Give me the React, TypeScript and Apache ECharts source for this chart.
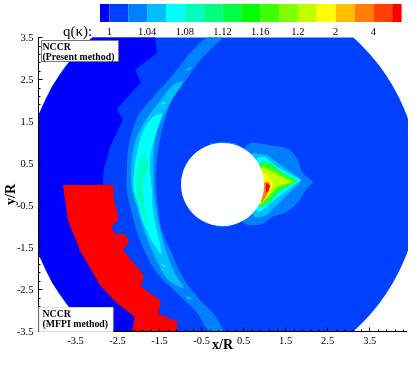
import React, { useEffect, useRef } from "react";
import * as echarts from "echarts";

const serif = "Liberation Serif";

// Contour level colours, low to high
const levelColors = [
  "#0000ff", "#0040ff", "#0080ff", "#00bfff", "#00ffff", "#00ffbf", "#00ff80", "#00ff40", "#00ff00",
  "#40ff00", "#80ff00", "#bfff00", "#ffff00", "#ffbf00", "#ff8000", "#ff4000", "#ff0000",
];
const colorbarEdges = [0, 0.5, 1.5, 2.5, 3.5, 4.5, 5.5, 6.5, 7.5, 8.5, 9.5, 10.5, 11.5, 12.5, 13.5, 14.5, 15.5, 16];
const colorbarTickPositions = [0.5, 2.5, 4.5, 6.5, 8.5, 10.5, 12.5, 14.5];
const colorbarTickLabels = ["1", "1.04", "1.08", "1.12", "1.16", "1.2", "2", "4"];

const majorTicks = [-3.5, -2.5, -1.5, -0.5, 0.5, 1.5, 2.5, 3.5];
const xMinorTicks = [-4.3, -4.1, -3.9, -3.7, -3.3, -3.1, -2.9, -2.7, -2.3, -2.1, -1.9, -1.7, -1.3, -1.1, -0.9, -0.7, -0.3, -0.1, 0.1, 0.3, 0.7, 0.9, 1.1, 1.3, 1.7, 1.9, 2.1, 2.3, 2.7, 2.9, 3.1, 3.3, 3.7, 3.9, 4.1, 4.3];
const yMinorTicks = [-3.3, -3.1, -2.9, -2.7, -2.3, -2.1, -1.9, -1.7, -1.3, -1.1, -0.9, -0.7, -0.3, -0.1, 0.1, 0.3, 0.7, 0.9, 1.1, 1.3, 1.7, 1.9, 2.1, 2.3, 2.7, 2.9, 3.1, 3.3];

const domainRadius = 4.68;
const cylinderRadius = 0.99;

// Contour outlines, in x/R, y/R
const darkWedge = [[-1.61, 3.6], [-1.56, 3.13], [-2.08, 2.73], [-1.95, 2.42], [-2.52, 1.8], [-2.37, 1.54], [-2.68, 0.89], [-2.83, 0.35], [-2.85, -0.01], [-3.0, -1.0], [-2.8, -2.0], [-2.3, -2.8], [-1.8, -3.2], [-1.8, -4.0], [-2.34, -4.053], [-3.008, -3.585], [-3.585, -3.008], [-4.053, -2.34], [-4.398, -1.6], [-4.609, -0.813], [-4.68, 0], [-4.609, 0.813], [-4.398, 1.6], [-4.053, 2.34], [-3.585, 3.008], [-3.01, 3.59]];
const redRegion = [[-3.8, -0.01], [-2.6, -0.01], [-2.59, -0.32], [-2.47, -0.83], [-2.64, -1.0], [-2.56, -1.18], [-2.33, -1.18], [-2.22, -1.36], [-2.37, -1.56], [-1.87, -2.17], [-1.95, -2.43], [-1.47, -2.77], [-1.53, -3.07], [-1.07, -3.27], [-1.1, -3.6], [-2.17, -3.6], [-2.09, -3.15], [-2.52, -2.82], [-2.92, -2.39], [-3.4, -1.56], [-3.68, -0.85]];

const shockBand1 = [[-0.3, 3.54], [-0.71, 3.2], [-1.09, 2.73], [-1.33, 2.44], [-1.66, 2.08], [-1.97, 1.7], [-2.14, 1.3], [-2.25, 0.82], [-2.28, 0.27], [-2.28, -0.13], [-2.16, -0.68], [-1.97, -1.32], [-1.56, -2.11], [-1.09, -2.58], [-0.61, -3.06], [-0.3, -3.51], [0.01, -3.51], [-0.23, -3.06], [-0.54, -2.75], [-0.95, -2.2], [-1.21, -1.63], [-1.45, -1.08], [-1.56, -0.3], [-1.59, 0.11], [-1.56, 0.58], [-1.49, 1.06], [-1.37, 1.54], [-1.18, 2.08], [-0.9, 2.44], [-0.66, 2.8], [-0.3, 3.2], [0.01, 3.54]];
const shockBand2 = [[-0.95, 2.46], [-1.18, 2.37], [-1.42, 2.08], [-1.78, 1.61], [-2.04, 1.13], [-2.16, 0.58], [-2.16, -0.06], [-2.04, -0.54], [-1.85, -1.15], [-1.54, -1.87], [-1.3, -2.27], [-0.92, -2.46], [-1.09, -2.2], [-1.33, -1.63], [-1.49, -1.04], [-1.61, -0.37], [-1.64, 0.11], [-1.61, 1.06], [-1.45, 1.54], [-1.18, 2.06], [-0.97, 2.37]];
const shockSpotUpper = [[-0.9, 2.7], [-0.82, 2.78], [-0.72, 2.81], [-0.76, 2.74]];
const shockSpotLower = [[-0.9, -2.68], [-0.8, -2.66], [-0.72, -2.73], [-0.82, -2.74]];
const shockCyan = [[-1.49, 1.68], [-1.66, 1.61], [-1.9, 1.25], [-2.04, 0.75], [-2.11, 0.27], [-2.11, -0.13], [-2.02, -0.44], [-1.85, -1.01], [-1.49, -1.65], [-1.45, -1.65], [-1.66, -0.61], [-1.68, -0.13], [-1.73, 0.58], [-1.61, 1.13], [-1.45, 1.65]];
const cyanSpotUpper = [[-1.46, 1.92], [-1.4, 1.97], [-1.36, 1.96], [-1.42, 1.9]];
const cyanSpotLower = [[-1.46, -1.9], [-1.4, -1.97], [-1.36, -1.96], [-1.42, -1.9]];
const shockTeal = [[-1.8, 0.77], [-1.97, 0.58], [-2.06, 0.11], [-2.04, -0.3], [-1.97, -0.49], [-1.8, -1.01], [-1.85, -0.54], [-1.9, -0.06], [-1.9, 0.01], [-1.8, 0.35], [-1.78, 0.42], [-1.83, 0.65]];

const rimUpper = [[-0.3, 0.985], [0, 1.015], [0.3, 0.985], [0.62, 0.8], [0, 0.5]];
const rimLower = [[-0.15, -1.0], [0, -1.015], [0.2, -1.0], [0, -0.5]];

const wake1 = [[0.58, 0.94], [1.2, 0.92], [1.6, 0.82], [1.79, 0.58], [1.91, 0.27], [2.15, 0.06], [2.03, -0.06], [1.79, -0.42], [1.53, -0.65], [1.2, -0.77], [0.89, -0.96], [0.48, -0.89], [0.3, 0]];
const wake2 = [[0.72, 0.75], [1.05, 0.7], [1.32, 0.51], [1.89, 0.11], [1.36, -0.42], [1.05, -0.73], [0.77, -0.8], [0.4, 0]];
const wake3 = [[0.84, 0.65], [1.01, 0.65], [1.29, 0.42], [1.86, 0.11], [1.32, -0.3], [1.01, -0.56], [0.84, -0.68], [0.5, 0]];
const wake4 = [[0.94, 0.58], [1.17, 0.51], [1.44, 0.27], [1.82, 0.11], [1.36, -0.18], [1.13, -0.44], [0.89, -0.56], [0.5, 0]];
const wake45 = [[0.95, 0.5], [1.18, 0.41], [1.55, 0.17], [1.75, 0.08], [1.32, -0.12], [1.1, -0.37], [0.89, -0.52], [0.5, 0]];
const wake5 = [[0.96, 0.42], [1.2, 0.3], [1.67, 0.06], [1.29, -0.06], [1.08, -0.3], [0.89, -0.49], [0.5, 0]];
const wake6 = [[1.01, 0.27], [1.13, 0.15], [1.2, 0.04], [1.13, -0.18], [1.01, -0.32], [0.89, -0.44], [0.5, 0]];
const wake7 = [[0.98, 0.04], [1.1, 0.06], [1.13, -0.08], [1.03, -0.3], [0.94, -0.42], [0.5, 0]];
const wake8 = [[1.03, 0.04], [1.13, -0.01], [1.08, -0.18], [1.03, -0.2]];

// polygon, level index, drawn in this order
const contourLayers: [number[][], number][] = [
  [darkWedge, 0],
  [rimUpper, 2],
  [rimLower, 2],
  [shockBand1, 2],
  [shockBand2, 3],
  [shockSpotUpper, 3],
  [shockSpotLower, 3],
  [shockCyan, 4],
  [cyanSpotUpper, 4],
  [cyanSpotLower, 4],
  [shockTeal, 5],
  [wake1, 2],
  [wake2, 3],
  [wake3, 4],
  [wake4, 6],
  [wake45, 9],
  [wake5, 11],
  [wake6, 12],
  [wake7, 14],
  [wake8, 16],
  [redRegion, 16],
];
const smoothedOutlines = [shockBand1, shockBand2, shockCyan, shockTeal, wake1];

export default function App() {
  const ref = useRef<HTMLDivElement>(null);
  useEffect(() => {
    const chart = echarts.init(ref.current!, null, { renderer: "svg" });
    const axisText = { color: "#000", fontFamily: serif, fontSize: 10.5 };
    const hiddenLine = { show: false, onZero: false };
    const line = { show: true, onZero: false, lineStyle: { color: "#000", width: 1 } };
    chart.setOption({
      animation: false,
      backgroundColor: "#fff",
      grid: [
        { left: 38.5, top: 37.5, width: 368.2, height: 294, containLabel: false, outerBoundsMode: "none" },
        { left: 100, top: 4, width: 301.6, height: 18, containLabel: false, outerBoundsMode: "none" },
      ],
      xAxis: [
        {
          type: "value", gridIndex: 0, min: -4.38, max: 4.38, position: "bottom", z: 5,
          axisLine: line, splitLine: { show: false },
          axisTick: { show: true, inside: true, length: 4, customValues: majorTicks, lineStyle: { color: "#000" } },
          axisLabel: { ...axisText, margin: 3, customValues: majorTicks, formatter: (v: number) => v.toFixed(1) },
          name: "x/R", nameLocation: "middle", nameGap: 6, nameMoveOverlap: false,
          nameTextStyle: { color: "#000", fontFamily: serif, fontSize: 14, fontWeight: "bold" },
        },
        {
          type: "value", gridIndex: 0, min: -4.38, max: 4.38, position: "bottom", z: 5,
          axisLine: hiddenLine, splitLine: { show: false }, axisLabel: { show: false },
          axisTick: { show: true, inside: true, length: 2, customValues: xMinorTicks, lineStyle: { color: "#000" } },
        },
        {
          type: "value", gridIndex: 1, min: 0, max: 16, position: "bottom",
          axisLine: { show: false }, axisTick: { show: false }, splitLine: { show: false },
          axisLabel: {
            ...axisText, margin: 4, customValues: colorbarTickPositions,
            formatter: (v: number) => colorbarTickLabels[colorbarTickPositions.indexOf(v)],
          },
        },
      ],
      yAxis: [
        {
          type: "value", gridIndex: 0, min: -3.5, max: 3.5, position: "left", z: 5,
          axisLine: line, splitLine: { show: false },
          axisTick: { show: true, inside: true, length: 4, customValues: majorTicks, lineStyle: { color: "#000" } },
          axisLabel: { ...axisText, margin: 5, customValues: majorTicks, formatter: (v: number) => v.toFixed(1) },
          name: "y/R", nameLocation: "middle", nameGap: 21, nameMoveOverlap: false,
          nameTextStyle: { color: "#000", fontFamily: serif, fontSize: 14, fontWeight: "bold", padding: [0, 20, 0, 0] },
        },
        {
          type: "value", gridIndex: 0, min: -3.5, max: 3.5, position: "left", z: 5,
          axisLine: hiddenLine, splitLine: { show: false }, axisLabel: { show: false },
          axisTick: { show: true, inside: true, length: 2, customValues: yMinorTicks, lineStyle: { color: "#000" } },
        },
        {
          type: "value", gridIndex: 1, min: 0, max: 1, position: "left",
          axisLine: { show: false }, axisTick: { show: false }, splitLine: { show: false }, axisLabel: { show: false },
        },
      ],
      series: [
        {
          type: "custom", xAxisIndex: 0, yAxisIndex: 0, clip: true, silent: true, z: 2,
          data: [[0, 0]],
          renderItem: (_p: any, api: any) => {
            const c = api.coord([0, 0]);
            return { type: "circle", shape: { cx: c[0], cy: c[1], r: api.size([domainRadius, 0])[0] }, style: { fill: levelColors[1] } };
          },
        },
        {
          type: "custom", xAxisIndex: 0, yAxisIndex: 0, clip: true, silent: true, z: 3,
          data: contourLayers.map((_, i) => [i, 0]),
          renderItem: (p: any, api: any) => {
            const [pts, level] = contourLayers[p.dataIndex];
            return {
              type: "polygon",
              shape: { points: pts.map((q) => api.coord(q)), smooth: smoothedOutlines.includes(pts) ? 0.35 : 0 },
              style: { fill: levelColors[level] },
            };
          },
        },
        {
          type: "custom", xAxisIndex: 0, yAxisIndex: 0, clip: true, silent: true, z: 4,
          data: [[0, 0]],
          renderItem: (_p: any, api: any) => {
            const c = api.coord([0, 0]);
            return { type: "circle", shape: { cx: c[0], cy: c[1], r: api.size([cylinderRadius, 0])[0] }, style: { fill: "#fff" } };
          },
        },
        {
          type: "custom", xAxisIndex: 2, yAxisIndex: 2, silent: true, z: 2,
          data: levelColors.map((_, i) => [i, 0]),
          renderItem: (p: any, api: any) => {
            const a = api.coord([colorbarEdges[p.dataIndex], 1]);
            const b = api.coord([colorbarEdges[p.dataIndex + 1], 0]);
            return { type: "rect", shape: { x: a[0], y: a[1], width: b[0] - a[0], height: b[1] - a[1] }, style: { fill: levelColors[p.dataIndex] } };
          },
        },
      ],
      graphic: [
        { type: "text", left: 63, top: 23, z: 20, style: { text: "q(κ):", fill: "#000", font: `15px "${serif}"` } },
        { type: "rect", left: 41, top: 40, z: 20, shape: { width: 77, height: 21 }, style: { fill: "#fff", stroke: "#777", lineWidth: 1 } },
        { type: "text", left: 42.5, top: 41, z: 21, style: { text: "NCCR", fill: "#000", font: `bold 9.8px "${serif}"` } },
        { type: "text", left: 42.5, top: 51, z: 21, style: { text: "(Present method)", fill: "#000", font: `bold 9.8px "${serif}"` } },
        { type: "rect", left: 38.5, top: 307, z: 20, shape: { width: 74, height: 24 }, style: { fill: "#fff", stroke: "#ddd", lineWidth: 1 } },
        { type: "text", left: 42.5, top: 308, z: 21, style: { text: "NCCR", fill: "#000", font: `bold 9.8px "${serif}"` } },
        { type: "text", left: 42.5, top: 318, z: 21, style: { text: "(MFPI method)", fill: "#000", font: `bold 9.8px "${serif}"` } },
      ],
    });
    return () => chart.dispose();
  }, []);
  return (
    <div
      ref={ref}
      style={{ position: "absolute", left: 0, top: 0, width: 415, height: 369, filter: "blur(0.35px)" }}
    />
  );
}
